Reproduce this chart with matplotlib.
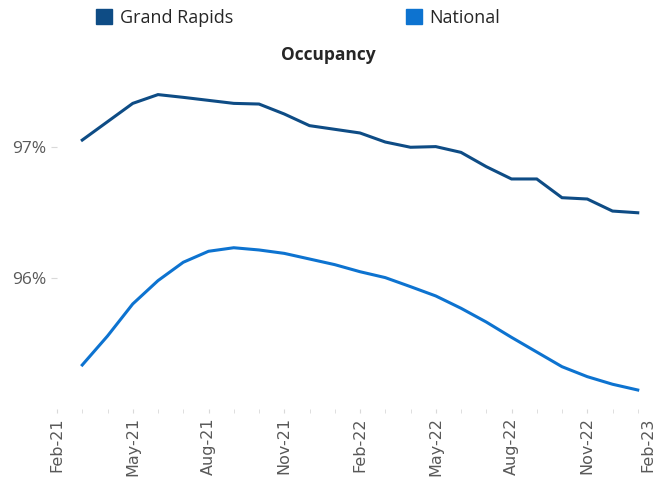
import matplotlib.pyplot as plt
from matplotlib.patches import Patch
from matplotlib.transforms import ScaledTranslation

# months since Feb-21
tick_pos = [0, 3, 6, 9, 12, 15, 18, 21, 24]
tick_labels = ['Feb-21', 'May-21', 'Aug-21', 'Nov-21', 'Feb-22',
               'May-22', 'Aug-22', 'Nov-22', 'Feb-23']
months = list(range(1, 24))  # Mar-21 .. Jan-23

grand_rapids = [97.053, 97.193, 97.333, 97.400, 97.379, 97.356, 97.333, 97.328,
                97.252, 97.163, 97.135, 97.107, 97.038, 96.998, 97.003, 96.959,
                96.850, 96.756, 96.756, 96.613, 96.603, 96.511, 96.498]
national = [95.336, 95.557, 95.802, 95.980, 96.120, 96.204, 96.231, 96.214,
            96.188, 96.145, 96.102, 96.048, 96.003, 95.934, 95.863, 95.769,
            95.664, 95.547, 95.435, 95.323, 95.247, 95.189, 95.145]

c_gr = '#0E4C85'
c_nat = '#0D73D0'
grey = '#595959'

plt.rcParams['font.family'] = ['Open Sans', 'DejaVu Sans']

fig = plt.figure(figsize=(6.6, 4.8), dpi=100)
ax = fig.add_axes([57/660, 71/480, 606/660, 327.5/480])

ax.plot(months, grand_rapids, color=c_gr, lw=2.2, solid_joinstyle='miter')
ax.plot(months, national, color=c_nat, lw=2.2, solid_joinstyle='miter')

ax.set_xlim(0, 24)
ax.set_ylim(95.0, 97.5)
ax.set_yticks([96, 97])
ax.set_yticklabels(['96%', '97%'], fontsize=12.5, color=grey)
ax.set_xticks(tick_pos)
ax.set_xticklabels(tick_labels, rotation=90, fontsize=11.5, color=grey,
                   family=['DejaVu Sans'])
ax.set_xticks(range(0, 25), minor=True)
ax.tick_params(axis='x', which='both', length=3, color='#d9d9d9', pad=3)
ax.tick_params(axis='y', length=4, color='#d9d9d9', pad=4)
for s in ax.spines.values():
    s.set_visible(False)

# last label sits at the figure edge, nudge it inside
last = ax.get_xticklabels()[-1]
last.set_transform(last.get_transform() + ScaledTranslation(-15/100, 0, fig.dpi_scale_trans))

fig.text(0.497, 0.885, 'Occupancy', ha='center', va='center',
         fontsize=12.5, fontweight='bold', color='#262626')

handles = [Patch(color=c_gr), Patch(color=c_nat)]
fig.legend(handles, ['Grand Rapids', 'National'], ncol=2, frameon=False,
           loc='center', bbox_to_anchor=(0.452, 0.963), fontsize=13,
           handlelength=0.85, handleheight=0.85, handletextpad=0.45,
           columnspacing=9.6, labelcolor='#262626')

fig.savefig('out.png', dpi=100)
